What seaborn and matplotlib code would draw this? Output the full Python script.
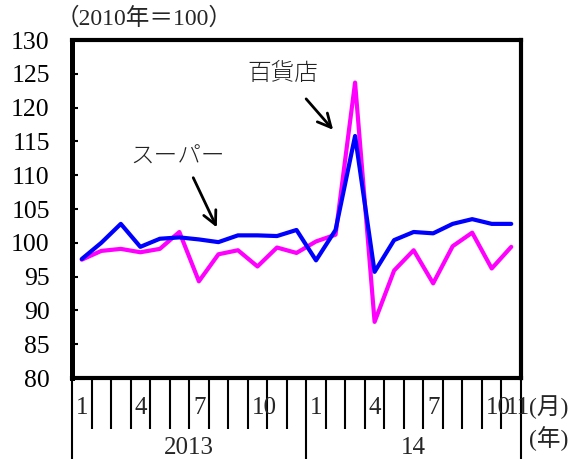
import matplotlib
matplotlib.use("Agg")
import matplotlib.pyplot as plt
import matplotlib.transforms as mtransforms
import numpy as np
import pandas as pd
import seaborn as sns

# Monthly index values, Jan 2013 - Nov 2014 (2010 = 100)
months = list(range(1, 13)) + list(range(1, 12))
years = [2013] * 12 + [2014] * 11
supermarket = [97.6, 100.0, 102.8, 99.4, 100.6, 100.8, 100.5, 100.1, 101.1, 101.1, 101.0, 101.9,
               97.4, 101.9, 115.8, 95.7, 100.4, 101.6, 101.4, 102.8, 103.5, 102.8, 102.8]
department = [97.5, 98.8, 99.1, 98.6, 99.1, 101.6, 94.3, 98.3, 98.9, 96.5, 99.3, 98.5,
              100.2, 101.2, 123.7, 88.3, 95.9, 98.9, 94.0, 99.5, 101.5, 96.2, 99.4]
month_labels = ["1", "4", "7", "10", "1", "4", "7", "10", "11"]
month_label_idx = [0, 3, 6, 9, 12, 15, 18, 21, 22]
year_labels = ["2013", "14"]
year_bounds = [0, 12, 23]
yticks = list(range(80, 131, 5))

sns.set_style("white")
plt.rcParams["font.family"] = ["Liberation Serif", "Noto Sans CJK JP"]

n = len(months)
pos = np.arange(n) + 0.5
df = pd.DataFrame({
    "pos": np.concatenate([pos, pos]),
    "value": department + supermarket,
    "series": ["百貨店"] * n + ["スーパー"] * n,
})

fig = plt.figure(figsize=(5.74, 4.59), dpi=100)
ax = fig.add_axes([72 / 574, 81 / 459, 449 / 574, 338 / 459])

sns.lineplot(data=df, x="pos", y="value", hue="series",
             hue_order=["百貨店", "スーパー"],
             palette={"百貨店": "#ff00ff", "スーパー": "#0000ff"},
             linewidth=3, legend=False, ax=ax, sort=False)

ax.set_xlim(0, n)
ax.set_ylim(80, 130)
ax.set_yticks(yticks)
ax.set_yticklabels([str(v) for v in yticks], fontsize=18.5)
ax.set_xlabel("")
ax.set_ylabel("")

for side, w in {"left": 3.6, "top": 3, "right": 3, "bottom": 3}.items():
    ax.spines[side].set_visible(True)
    ax.spines[side].set_color("black")
    ax.spines[side].set_linewidth(w)

ax.tick_params(axis="y", left=True, direction="in", length=4.5, width=1.5, pad=16, colors="black")

# Month dividers (short) and year dividers (long) below the plot
ax.set_xticks(year_bounds)
ax.set_xticks([i for i in range(n + 1) if i not in year_bounds], minor=True)
ax.tick_params(axis="x", which="major", bottom=True, direction="out", length=58, width=1.5,
               color="black", labelbottom=False)
ax.tick_params(axis="x", which="minor", bottom=True, direction="out", length=37, width=1.5,
               color="black", labelbottom=False)

trans = mtransforms.blended_transform_factory(ax.transData, ax.transAxes)
for idx, lab in zip(month_label_idx, month_labels):
    ax.text(idx + 0.2, -0.09, lab, transform=trans, ha="left", va="center", fontsize=18)
for (a, b), lab in zip(zip(year_bounds[:-1], year_bounds[1:]), year_labels):
    ax.text((a + b) / 2, -0.208, lab, transform=trans, ha="center", va="center", fontsize=18)

ax.text(1.018, -0.085, "(月)", transform=ax.transAxes, ha="left", va="center", fontsize=17)
ax.text(1.018, -0.178, "(年)", transform=ax.transAxes, ha="left", va="center", fontsize=17)
ax.text(-0.036, 1.065, "（2010年＝100）", transform=ax.transAxes, ha="left", va="center", fontsize=17)

# Series annotations
ax.annotate("", xy=(7.48, 101.9), xytext=(6.15, 110.0),
            arrowprops=dict(arrowstyle="->", color="black", lw=2, mutation_scale=24))
ax.text(5.43, 112.7, "スーパー", ha="center", va="center", fontsize=17,
        family=["Noto Sans CJK JP"], color="#222222", fontweight="light")
ax.annotate("", xy=(13.47, 116.4), xytext=(11.9, 121.6),
            arrowprops=dict(arrowstyle="->", color="black", lw=2, mutation_scale=24))
ax.text(10.8, 125.0, "百貨店", ha="center", va="center", fontsize=17,
        family=["Noto Sans CJK JP"], color="#222222", fontweight="light")

fig.savefig("out.png", dpi=100)
